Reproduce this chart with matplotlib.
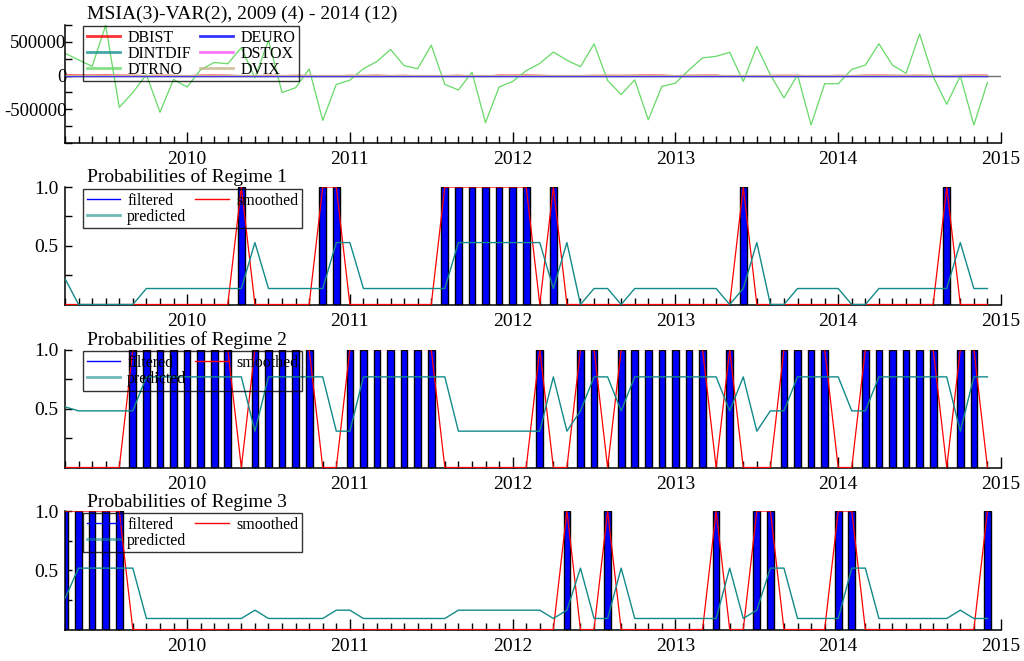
import matplotlib
matplotlib.use('Agg')
import matplotlib.pyplot as plt
from matplotlib.lines import Line2D
from matplotlib.ticker import MultipleLocator, FixedLocator
import numpy as np

plt.rcParams['font.family'] = ['Liberation Serif', 'DejaVu Serif']
plt.rcParams['axes.unicode_minus'] = False

# ---------------- data ----------------
start_year, start_month, n_obs = 2009, 4, 69
title_main = "MSIA(3)-VAR(2), 2009 (4) - 2014 (12)"

DTRNO = [330000, 233000, 136000, 743000, -471000, -252000, 15000, -544000, -58000, -170000,
         87000, 194000, 175000, 413000, -34000, 524000, -252000, -180000, 97000, -665000,
         -131000, -68000, 102000, 209000, 388000, 146000, 102000, 451000, -131000, -214000,
         49000, -699000, -170000, -87000, 73000, 180000, 349000, 228000, 131000, 471000,
         -73000, -282000, -63000, -655000, -160000, -112000, 83000, 262000, 286000, 345000,
         -87000, 432000, 10000, -330000, 10000, -733000, -121000, -121000, 92000, 155000,
         471000, 155000, 34000, 616000, -15000, -427000, -5000, -733000, -102000]
DBIST = [9000, 7000, 6000, 8000, 5000, 3000, -2000, 4000, 2000, -3000,
         5000, 6000, 4000, -2000, -4000, 3000, -1000, 2000, 1000, -6000,
         -3000, 2000, 1000, 4000, -1000, 2000, -3000, -5000, -2000, 3000,
         -4000, -7000, 5000, 4000, 6000, 3000, -2000, -3000, -1000, 2000,
         3000, 2000, 4000, 6000, 5000, -2000, 3000, 4000, 5000, -8000,
         -12000, -6000, 1000, 3000, 2000, -4000, -3000, 2000, -1000, 4000,
         5000, 3000, 2000, 4000, 1000, -2000, 2000, 5000, 4000]
DEURO = [0.02, -0.01, 0.03, -0.02, 0.01, 0.00, -0.03, 0.02, 0.01, -0.02,
         0.01, 0.02, -0.01, -0.03, 0.02, 0.01, -0.02, 0.00, 0.01, -0.01,
         0.02, -0.02, 0.01, 0.00, -0.01, 0.02, 0.01, -0.02, 0.00, 0.01,
         -0.01, 0.02, -0.01, 0.01, 0.00, -0.02, 0.01, 0.02, -0.01, 0.00,
         0.01, -0.02, 0.01, 0.02, -0.01, 0.00, 0.01, -0.01, 0.02, 0.01,
         -0.03, 0.02, 0.00, -0.01, 0.01, 0.02, -0.02, 0.01, 0.00, -0.01,
         0.02, 0.01, -0.01, 0.00, 0.02, -0.02, 0.01, -0.01, 0.00]
DINTDIF = [0.3, -0.2, 0.1, 0.4, -0.3, 0.2, -0.1, 0.0, 0.2, -0.2,
           0.1, -0.3, 0.2, 0.1, -0.1, 0.3, -0.2, 0.0, 0.1, -0.4,
           0.2, 0.1, -0.1, 0.0, 0.2, -0.2, 0.1, 0.3, -0.1, 0.0,
           -0.2, 0.1, 0.2, -0.3, 0.1, 0.0, -0.1, 0.2, 0.1, -0.2,
           0.0, 0.1, -0.1, 0.2, 0.3, -0.2, 0.1, 0.0, -0.1, 0.2,
           0.1, -0.3, 0.2, 0.0, -0.1, 0.1, 0.2, -0.2, 0.0, 0.1,
           -0.1, 0.2, 0.1, -0.2, 0.0, 0.3, -0.1, 0.1, 0.0]
DSTOX = [120, -80, 60, 150, -200, 90, -40, 30, 110, -70,
         50, -130, 80, 40, -60, 140, -90, 20, 70, -210,
         100, 30, -50, 10, 90, -100, 40, 120, -60, 0,
         -80, 60, 90, -140, 50, 20, -30, 80, 60, -90,
         10, 40, -70, 100, 130, -90, 60, 10, -40, 90,
         30, -150, 80, 10, -50, 40, 90, -80, 20, 50,
         -40, 80, 60, -100, 10, 120, -30, 50, 20]
DVIX = [-2.1, 1.5, -0.8, -3.0, 4.2, -1.1, 0.6, 1.9, -2.4, 1.2,
        -0.5, 2.8, -1.6, -0.9, 1.4, -2.7, 3.1, -0.3, -1.2, 4.5,
        -2.0, -0.7, 1.1, 0.2, -1.8, 2.2, -0.6, -2.5, 1.0, 0.3,
        1.7, -1.3, -1.9, 2.6, -0.8, -0.2, 0.9, -1.5, -1.0, 1.8,
        -0.1, -0.6, 1.3, -2.0, -2.3, 1.6, -1.1, -0.2, 0.7, -1.7,
        -0.5, 2.9, -1.4, -0.1, 0.9, -0.8, -1.6, 1.5, -0.3, -0.9,
        0.8, -1.4, -1.2, 1.9, -0.1, -2.2, 0.6, -1.0, -0.4]

# regime with filtered/smoothed probability = 1 at each month
regime = [3, 3, 3, 3, 3, 2, 2, 2, 2, 2, 2, 2, 2, 1, 2, 2, 2, 2, 2, 1,
          1, 2, 2, 2, 2, 2, 2, 2, 1, 1, 1, 1, 1, 1, 1, 2, 1, 3, 2, 2,
          3, 2, 2, 2, 2, 2, 2, 2, 3, 2, 1, 3, 3, 2, 2, 2, 2, 3, 3, 2,
          2, 2, 2, 2, 2, 1, 2, 2, 3]

pred_r1 = [0.22, 0, 0, 0, 0, 0,
           0.136, 0.136, 0.136, 0.136, 0.136, 0.136, 0.136, 0.136,
           0.527, 0.136, 0.136, 0.136, 0.136, 0.136, 0.527, 0.527,
           0.136, 0.136, 0.136, 0.136, 0.136, 0.136, 0.136,
           0.527, 0.527, 0.527, 0.527, 0.527, 0.527, 0.527,
           0.136, 0.527, 0, 0.136, 0.136, 0,
           0.136, 0.136, 0.136, 0.136, 0.136, 0.136, 0.136,
           0, 0.136, 0.527, 0, 0, 0.136, 0.136, 0.136, 0.136, 0, 0,
           0.136, 0.136, 0.136, 0.136, 0.136, 0.136, 0.527, 0.136, 0.136]
pred_r2 = [0.514, 0.48, 0.48, 0.48, 0.48, 0.48,
           0.768, 0.768, 0.768, 0.768, 0.768, 0.768, 0.768, 0.768,
           0.308, 0.768, 0.768, 0.768, 0.768, 0.768, 0.308, 0.308,
           0.768, 0.768, 0.768, 0.768, 0.768, 0.768, 0.768,
           0.308, 0.308, 0.308, 0.308, 0.308, 0.308, 0.308,
           0.768, 0.308, 0.48, 0.768, 0.768, 0.48,
           0.768, 0.768, 0.768, 0.768, 0.768, 0.768, 0.768,
           0.48, 0.768, 0.308, 0.48, 0.48, 0.768, 0.768, 0.768, 0.768, 0.48, 0.48,
           0.768, 0.768, 0.768, 0.768, 0.768, 0.768, 0.308, 0.768, 0.768]
pred_r3 = [0.262, 0.518, 0.518, 0.518, 0.518, 0.518,
           0.093, 0.093, 0.093, 0.093, 0.093, 0.093, 0.093, 0.093,
           0.163, 0.093, 0.093, 0.093, 0.093, 0.093, 0.163, 0.163,
           0.093, 0.093, 0.093, 0.093, 0.093, 0.093, 0.093,
           0.163, 0.163, 0.163, 0.163, 0.163, 0.163, 0.163,
           0.093, 0.163, 0.518, 0.093, 0.093, 0.518,
           0.093, 0.093, 0.093, 0.093, 0.093, 0.093, 0.093,
           0.518, 0.093, 0.163, 0.518, 0.518, 0.093, 0.093, 0.093, 0.093, 0.518, 0.518,
           0.093, 0.093, 0.093, 0.093, 0.093, 0.093, 0.163, 0.093, 0.093]
predicted = [pred_r1, pred_r2, pred_r3]
year_ticks = [2010, 2011, 2012, 2013, 2014, 2015]

# ---------------- plot ----------------
t = start_year + (start_month - 1) / 12 + np.arange(n_obs) / 12
W, H = 1024, 661
fig = plt.figure(figsize=(W / 100, H / 100), dpi=100)

def add_ax(top_px, bot_px):
    return fig.add_axes([65 / W, 1 - bot_px / H, (1001 - 65) / W, (bot_px - top_px) / H])

FS = 14
LFS = 11.5
TEAL = '#138a8a'

def style_axes(ax, ypad):
    ax.set_xlim(2009.25, 2015.0)
    for s in ('top', 'right'):
        ax.spines[s].set_visible(False)
    for s in ('left', 'bottom'):
        ax.spines[s].set_linewidth(1.1)
    ax.xaxis.set_major_locator(FixedLocator(year_ticks))
    ax.xaxis.set_minor_locator(FixedLocator(t))
    ax.tick_params(axis='x', which='major', direction='in', length=8, width=1, labelsize=FS, pad=6)
    ax.tick_params(axis='x', which='minor', direction='in', length=5, width=1)
    ax.tick_params(axis='y', which='both', direction='in', length=5, width=1, labelsize=FS, pad=ypad)

def make_legend(ax, handles, labels, top_px):
    return ax.legend(handles, labels, ncol=2, loc='upper left',
                     bbox_to_anchor=(83 / W, 1 - top_px / H), bbox_transform=fig.transFigure,
                     fontsize=LFS, frameon=True, fancybox=False, edgecolor='black',
                     facecolor='none', borderpad=0.22, labelspacing=0.0, handlelength=2.1,
                     handletextpad=0.45, columnspacing=0.55, borderaxespad=0.0)

# top panel
ax0 = add_ax(25, 143)
style_axes(ax0, -1)
ax0.tick_params(axis='y', labelsize=13.5)
ax0.set_ylim(-1000000, 750000)
ax0.yaxis.set_major_locator(FixedLocator([-500000, 0, 500000]))
ax0.yaxis.set_minor_locator(MultipleLocator(250000))
ax0.yaxis.set_major_formatter(plt.FuncFormatter(lambda v, p: '%d' % v))
ax0.axhline(0, color='#707070', lw=1.0, zorder=1)
series = [('DBIST', DBIST, '#ff0000'), ('DINTDIF', DINTDIF, '#1a9090'),
          ('DTRNO', DTRNO, '#66d966'), ('DEURO', DEURO, '#0000ff'),
          ('DSTOX', DSTOX, '#ff55ff'), ('DVIX', DVIX, '#c8b48a')]
lh, ll = [], []
for name, vals, col in series:
    ax0.plot(t, vals, color=col, lw=0.9, zorder=2)
    lh.append(Line2D([], [], color=col, lw=2.0, alpha=0.8))
    ll.append(name)
make_legend(ax0, lh, ll, 26)
fig.text(87 / W, 1 - 19 / H, title_main, fontsize=FS, ha='left', va='baseline')

panels = [(187, 304.5, 182.5, 189), (349.5, 467.5, 345, 351.5), (511, 629.5, 507, 513)]
for k, (top, bot, tb, lt) in enumerate(panels):
    ax = add_ax(top, bot)
    style_axes(ax, 4.5)
    ax.set_ylim(0, 1.0)
    ax.yaxis.set_major_locator(FixedLocator([0.5, 1.0]))
    ax.yaxis.set_minor_locator(FixedLocator([0.25, 0.75]))
    ax.yaxis.set_major_formatter(plt.FuncFormatter(lambda v, p: '%.1f' % v))
    filt = np.array([1.0 if r == k + 1 else 0.0 for r in regime])
    smooth = filt.copy()
    m = filt > 0
    ax.bar(t[m], filt[m], width=0.041, color='#0000ff', edgecolor='black', linewidth=1.0, zorder=2)
    ax.plot(t, smooth, color='#ff0000', lw=0.9, zorder=3)
    ax.plot(t, predicted[k], color=TEAL, lw=1.0, zorder=4)
    h = [Line2D([], [], color='#0000ff', lw=1.0), Line2D([], [], color=TEAL, lw=2.0, alpha=0.6),
         Line2D([], [], color='#ff0000', lw=1.0)]
    make_legend(ax, h, ['filtered', 'predicted', 'smoothed'], lt)
    fig.text(87 / W, 1 - tb / H, 'Probabilities of Regime %d' % (k + 1), fontsize=FS,
             ha='left', va='baseline')

fig.savefig('out.png', dpi=100)
